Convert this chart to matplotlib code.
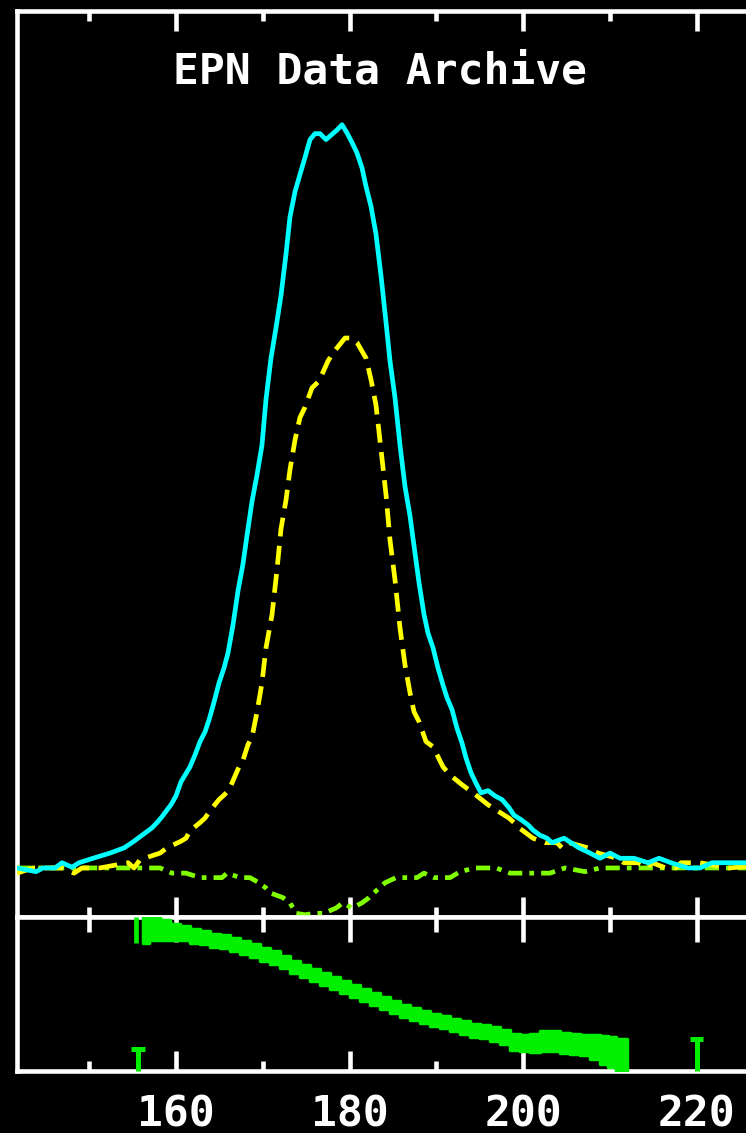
import numpy as np
import matplotlib
matplotlib.use("Agg")
import matplotlib.pyplot as plt

# ---- data (pulse longitude in degrees) ----
lon_I = [141.67, 143.86, 144.67, 146.05, 146.86, 148.01, 148.82, 150.43, 152.39, 154.01,
         155.04, 155.62, 156.43, 157.23, 157.81, 158.39, 158.96, 159.42, 160.00, 160.58,
         161.15, 161.61, 162.19, 162.77, 163.34, 163.80, 164.38, 164.96, 165.53, 165.99,
         166.57, 167.15, 167.72, 168.18, 168.76, 169.34, 169.91, 170.37, 170.95, 171.53,
         172.10, 172.68, 173.14, 173.72, 174.29, 174.87, 175.45, 176.02, 176.60, 177.29,
         177.98, 178.56, 179.14, 179.71, 180.29, 180.86, 181.44, 181.90, 182.48, 183.05,
         183.63, 184.21, 184.67, 185.24, 185.82, 186.40, 186.97, 187.44, 188.01, 188.59,
         189.05, 189.63, 190.20, 190.78, 191.24, 191.82, 192.39, 192.97, 193.43, 194.01,
         194.58, 195.16, 195.97, 196.77, 197.58, 198.39, 198.96, 199.77, 200.58, 201.15,
         201.96, 202.77, 203.34, 204.73, 206.46, 207.72, 208.88, 210.03, 211.18, 212.80,
         214.41, 215.68, 217.06, 219.02, 220.40, 221.79, 223.86, 227.00]
total_I = [0.000, -0.005, 0.000, 0.000, 0.007, 0.001, 0.007, 0.013, 0.020, 0.027,
           0.035, 0.040, 0.047, 0.054, 0.061, 0.069, 0.078, 0.085, 0.097, 0.116,
           0.127, 0.136, 0.152, 0.170, 0.183, 0.199, 0.223, 0.249, 0.269, 0.289,
           0.327, 0.373, 0.409, 0.447, 0.493, 0.529, 0.569, 0.630, 0.686, 0.727,
           0.770, 0.826, 0.876, 0.910, 0.933, 0.956, 0.980, 0.988, 0.988, 0.980,
           0.987, 0.993, 1.000, 0.989, 0.976, 0.962, 0.942, 0.917, 0.890, 0.853,
           0.797, 0.734, 0.682, 0.633, 0.569, 0.513, 0.474, 0.433, 0.384, 0.341,
           0.316, 0.296, 0.269, 0.246, 0.229, 0.213, 0.188, 0.168, 0.148, 0.128,
           0.114, 0.101, 0.104, 0.097, 0.092, 0.081, 0.071, 0.065, 0.058, 0.051,
           0.044, 0.040, 0.034, 0.040, 0.027, 0.020, 0.013, 0.020, 0.013, 0.013,
           0.007, 0.013, 0.007, 0.000, 0.000, 0.007, 0.007, 0.007]

lon_L = [141.67, 143.52, 145.48, 146.86, 148.24, 149.16, 151.24, 154.47, 155.16, 155.85,
         158.16, 158.96, 160.58, 161.15, 161.61, 162.77, 163.34, 163.92, 164.96, 165.53,
         166.11, 167.15, 167.72, 168.30, 168.76, 169.34, 169.91, 170.37, 171.07, 171.64,
         172.10, 172.68, 173.14, 173.72, 174.29, 174.87, 175.68, 176.48, 177.52, 178.10,
         179.48, 180.29, 180.86, 181.90, 182.48, 183.05, 183.63, 184.21, 184.67, 185.24,
         185.82, 186.40, 186.97, 187.44, 188.01, 188.82, 189.63, 190.78, 191.59, 192.97,
         193.78, 194.58, 195.97, 196.77, 198.39, 198.96, 199.54, 201.15, 202.54, 203.92,
         204.50, 205.30, 207.49, 208.65, 210.84, 211.64, 213.26, 214.29, 214.87, 216.48,
         217.64, 218.21, 220.40, 223.75, 227.00]
linear_L = [-0.007, 0.000, 0.000, 0.000, -0.007, 0.000, 0.000, 0.007, 0.000, 0.011,
            0.020, 0.027, 0.036, 0.040, 0.050, 0.061, 0.067, 0.077, 0.092, 0.098,
            0.105, 0.133, 0.145, 0.166, 0.176, 0.210, 0.249, 0.296, 0.341, 0.401,
            0.456, 0.495, 0.536, 0.576, 0.606, 0.620, 0.646, 0.655, 0.682, 0.693,
            0.713, 0.713, 0.707, 0.686, 0.657, 0.623, 0.563, 0.502, 0.441, 0.388,
            0.323, 0.273, 0.236, 0.210, 0.197, 0.170, 0.163, 0.136, 0.125, 0.112,
            0.105, 0.098, 0.085, 0.079, 0.067, 0.061, 0.054, 0.040, 0.034, 0.034,
            0.027, 0.034, 0.027, 0.020, 0.013, 0.007, 0.007, 0.000, 0.007, 0.000,
            0.000, 0.007, 0.007, 0.000, 0.003]

lon_V = [141.67, 151.24, 158.16, 159.54, 161.15, 162.77, 165.30, 165.88, 167.38, 168.53,
         169.57, 170.37, 170.95, 172.33, 173.14, 173.83, 174.87, 176.02, 177.06, 178.44,
         179.25, 180.29, 181.44, 182.25, 183.05, 184.09, 185.36, 186.40, 187.78, 188.59,
         189.74, 191.59, 192.74, 194.47, 196.89, 198.50, 203.11, 204.84, 207.15, 208.88,
         214.64, 220.40, 227.00]
circular_V = [0.000, 0.000, 0.000, -0.007, -0.007, -0.013, -0.013, -0.007, -0.013, -0.013,
              -0.020, -0.027, -0.034, -0.040, -0.047, -0.061, -0.063, -0.061, -0.061, -0.054,
              -0.047, -0.054, -0.047, -0.040, -0.031, -0.020, -0.013, -0.013, -0.013, -0.007,
              -0.013, -0.013, -0.005, 0.000, 0.000, -0.007, -0.007, 0.000, -0.005, 0.000,
              0.000, 0.000, 0.000]

lon_PA = [156.20, 157.58, 158.73, 159.88, 161.04, 162.19, 163.34, 164.50, 165.65, 166.80,
          167.95, 169.11, 170.26, 171.41, 172.56, 173.72, 174.87, 176.02, 177.18, 178.33,
          179.48, 180.63, 181.79, 182.94, 184.09, 185.24, 186.40, 187.55, 188.70, 189.86,
          191.01, 192.16, 193.31, 194.47, 195.62, 196.77, 197.93, 199.08, 200.23, 201.38,
          202.54, 203.69, 204.84, 205.99, 207.15, 208.30, 209.45, 210.26, 211.18, 211.99]
pa_deg = [74.8, 77.1, 74.8, 72.5, 71.3, 67.8, 65.5, 63.1, 61.9, 57.3,
          54.9, 51.4, 45.6, 42.1, 37.4, 31.6, 26.9, 22.2, 17.5, 12.9,
          8.2, 3.5, -1.2, -5.8, -10.5, -15.2, -19.9, -23.4, -26.9, -30.4,
          -32.7, -36.2, -39.7, -42.1, -44.4, -46.7, -50.3, -56.1, -57.3, -57.3,
          -54.9, -54.9, -57.3, -58.4, -59.6, -61.9, -65.5, -67.8, -72.5, -72.5]
pa_err = [15.2, 14.0, 11.7, 9.4, 8.5, 8.0, 7.6, 7.6, 7.6, 7.6,
          7.6, 7.6, 7.6, 7.6, 7.4, 7.4, 7.4, 7.4, 7.4, 7.4,
          7.4, 7.4, 7.4, 7.4, 7.4, 7.4, 7.4, 7.4, 7.4, 7.4,
          7.4, 7.4, 7.6, 7.6, 7.6, 8.0, 8.6, 9.4, 9.4, 10.5,
          11.7, 11.7, 11.7, 11.7, 11.7, 14.0, 16.4, 17.5, 19.9, 19.9]

marker_lon = [155.6, 220.0]
marker_top = [-64.3, -52.6]

major_ticks = [160, 180, 200, 220]
minor_ticks = [150, 170, 190, 210]
tick_labels = ["160", "180", "200", "220"]
title = "EPN Data Archive"

# ---- figure ----
W, H = 746, 1133
fig = plt.figure(figsize=(W / 100, H / 100), dpi=100, facecolor="black")

left = 17 / W
width = 743 / W
y_sep = 917
y_top = 11
y_bot = 1071
ax1 = fig.add_axes([left, 1 - y_sep / H, width, (y_sep - y_top) / H], facecolor="black")
ax2 = fig.add_axes([left, 1 - y_bot / H, width, (y_bot - y_sep) / H], facecolor="black")

xlim = (141.67, 227.32)
lw_sp = 3.3
CYAN = "#00FFFF"
YEL = "#FFFF00"
LIME = "#80FF00"
PAG = "#00F000"

for ax in (ax1, ax2):
    ax.set_xlim(*xlim)
    for s in ("left", "top", "bottom"):
        ax.spines[s].set_color("white")
        ax.spines[s].set_linewidth(lw_sp)
    ax.spines["right"].set_visible(False)
    ax.set_yticks([])
    ax.set_xticks(major_ticks)
    ax.set_xticks(minor_ticks, minor=True)

ax1.set_ylim(-0.066, 1.153)
ax2.set_ylim(-90, 90)

ax1.plot(lon_V, circular_V, color=LIME, lw=3.4, ls=(0, (3, 1.5, 1, 1.5)),
         solid_capstyle="butt", zorder=3)
ax1.plot(lon_L, linear_L, color=YEL, lw=3.4, ls=(0, (4, 2)), zorder=4)
ax1.plot(lon_I, total_I, color=CYAN, lw=3.4, zorder=5)

pa = np.array(pa_deg)
err = np.array(pa_err)
ax2.fill_between(lon_PA, pa - err, pa + err, step="mid", color=PAG, lw=2.5,
                 edgecolor=PAG, zorder=3)
ax2.vlines([lon_PA[0] - 0.8], [pa[0] - err[0]], [pa[0] + err[0]], color=PAG, lw=3.4, zorder=3)

# error-bar style markers standing on the bottom axis
ax2.vlines(marker_lon, [-90, -90], marker_top, color=PAG, lw=3.6, zorder=4, clip_on=False)
ax2.hlines(marker_top, [m - 0.8 for m in marker_lon], [m + 0.8 for m in marker_lon],
           color=PAG, lw=3.6, zorder=4)

ax1.tick_params(axis="x", which="both", direction="in", top=True, bottom=True,
                labelbottom=False, labeltop=False, color="white", width=lw_sp)
ax1.tick_params(axis="x", which="major", length=14.4)
ax1.tick_params(axis="x", which="minor", length=7.5)

ax2.tick_params(axis="x", which="both", direction="in", top=True, bottom=True,
                labelbottom=True, labeltop=False, color="white", width=lw_sp)
ax2.tick_params(axis="x", which="major", length=14.4, pad=16)
ax2.tick_params(axis="x", which="minor", length=7.5)
ax2.set_xticklabels(tick_labels, fontsize=31, fontfamily="DejaVu Sans Mono",
                    fontweight="bold", color="white")
for t in ax2.xaxis.get_major_ticks():
    t.tick2line.set_markersize(18)
for t in ax2.xaxis.get_minor_ticks():
    t.tick2line.set_markersize(11)

fig.text(380 / W, 1 - 83 / H, title, ha="center", va="baseline", color="white",
         fontsize=31, fontfamily="DejaVu Sans Mono", fontweight="bold")

fig.savefig("out.png", dpi=100, facecolor="black")
